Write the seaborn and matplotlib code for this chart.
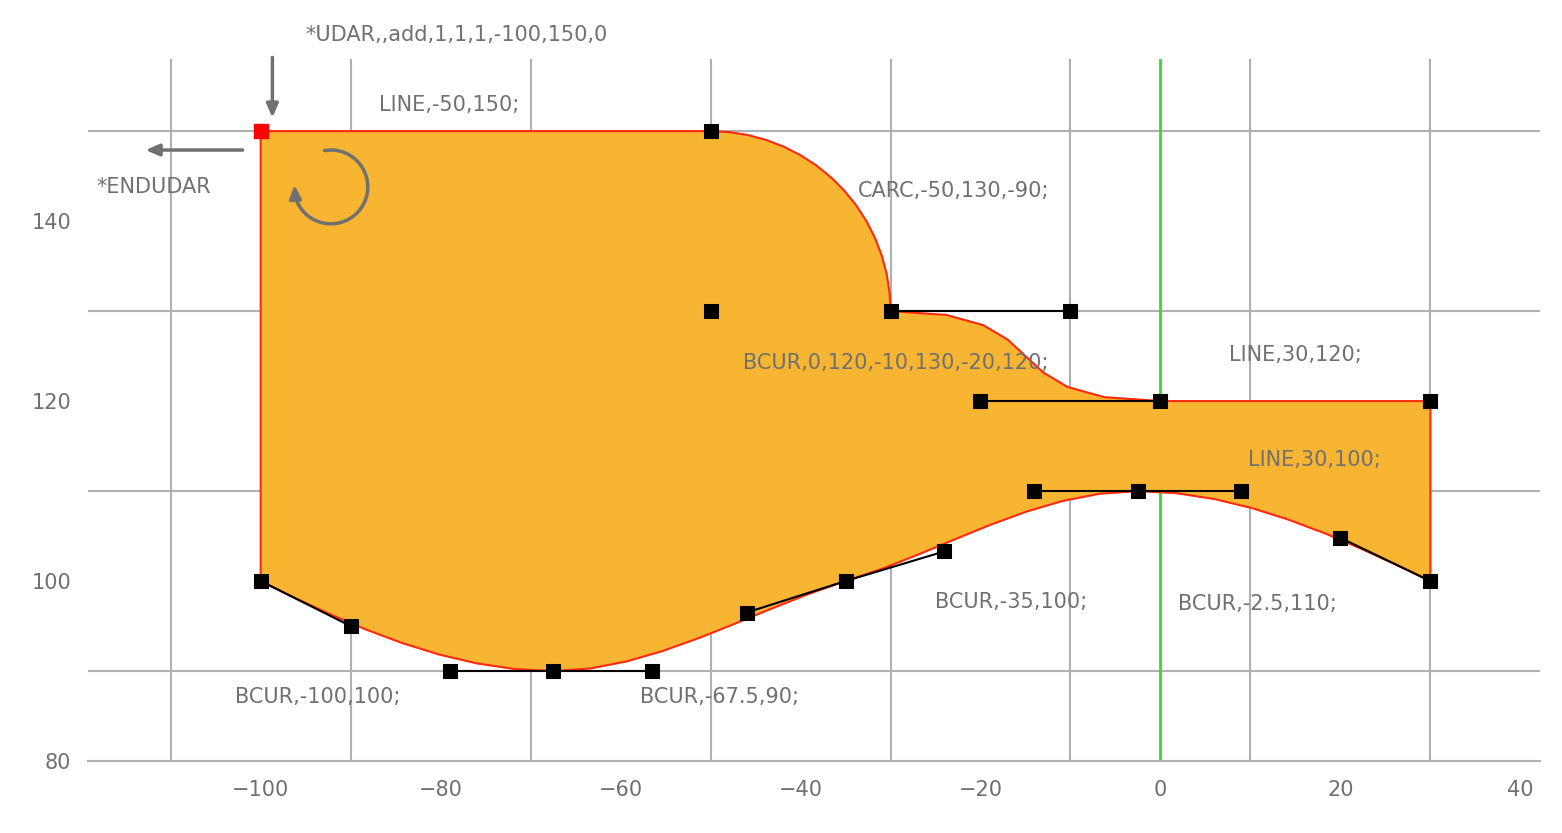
import numpy as np
import pandas as pd
import seaborn as sns
import matplotlib.pyplot as plt

# outline pieces
start = (-100, 150)
line1_end = (-50, 150)
arc_center = (-50, 130)
arc_radius = 20
bcur_top = [(-30, 130), (-10, 130), (-20, 120), (0, 120)]
line2_end = (30, 120)
line3_end = (30, 100)
bcur_low = [
    [(30, 100), (20, 104.8), (9, 110), (-2.5, 110)],
    [(-2.5, 110), (-14, 110), (-24, 103.3), (-35, 100)],
    [(-35, 100), (-46, 96.5), (-56.5, 90), (-67.5, 90)],
    [(-67.5, 90), (-79, 90), (-90, 95), (-100, 100)],
]

# control handles (black squares joined by black lines)
handles = [
    [(-30, 130), (-10, 130)],
    [(-20, 120), (0, 120)],
    [(30, 100), (20, 104.8)],
    [(9, 110), (-2.5, 110), (-14, 110)],
    [(-24, 103.3), (-35, 100), (-46, 96.5)],
    [(-56.5, 90), (-67.5, 90), (-79, 90)],
    [(-90, 95), (-100, 100)],
]
extra_pts = [(-50, 150), (-50, 130), (30, 120)]

labels = [
    ("LINE,-50,150;", -86.9, 152.9),
    ("*ENDUDAR", -118.3, 143.8),
    ("CARC,-50,130,-90;", -33.6, 143.4),
    ("BCUR,0,120,-10,130,-20,120;", -46.4, 124.2),
    ("LINE,30,120;", 7.6, 125.1),
    ("LINE,30,100;", 9.7, 113.4),
    ("BCUR,-35,100;", -25.1, 97.7),
    ("BCUR,-2.5,110;", 1.9, 97.4),
    ("BCUR,-100,100;", -102.9, 87.1),
    ("BCUR,-67.5,90;", -57.8, 87.1),
]


def bezier(p, n=8):
    p = np.array(p, dtype=float)
    t = np.linspace(0, 1, n + 1)[:, None]
    return ((1 - t) ** 3 * p[0] + 3 * (1 - t) ** 2 * t * p[1]
            + 3 * (1 - t) * t ** 2 * p[2] + t ** 3 * p[3])


pts = [np.array([start, line1_end])]
a = np.radians(np.linspace(90, 0, 16))
pts.append(np.column_stack([arc_center[0] + arc_radius * np.cos(a),
                            arc_center[1] + arc_radius * np.sin(a)]))
pts.append(bezier(bcur_top))
pts.append(np.array([line2_end, line3_end]))
for b in bcur_low:
    pts.append(bezier(b))
pts.append(np.array([start]))
outline = np.vstack(pts)

sns.set_style("white")
fig = plt.figure(figsize=(15.62, 8.33), dpi=100)
ax = fig.add_axes([0.0563, 0.0864, 0.9297, 0.8426])
gray = "#707070"

ax.fill(outline[:, 0], outline[:, 1], color="#F7B532", zorder=2)
ax.plot(outline[:, 0], outline[:, 1], color="#FF2A10", lw=1.5, zorder=3)
ax.axvline(0, color="#33DD22", lw=2, zorder=1.5)

for h in handles:
    h = np.array(h)
    ax.plot(h[:, 0], h[:, 1], color="black", lw=1.5, zorder=4)
allp = pd.DataFrame([p for h in handles for p in h] + extra_pts, columns=["x", "y"])
sns.scatterplot(data=allp, x="x", y="y", marker="s", color="black", s=90,
                edgecolor="black", ax=ax, zorder=5)
ax.scatter([start[0]], [start[1]], marker="s", color="red", s=90, zorder=6)

for txt, x, y in labels:
    ax.text(x, y, txt, color=gray, fontsize=15, va="center", ha="left", zorder=7)
ax.text(-95, 160.7, "*UDAR,,add,1,1,1,-100,150,0", color=gray, fontsize=15,
        va="center", ha="left", clip_on=False)

arrow = dict(arrowstyle="-|>,head_length=0.8,head_width=0.35", color=gray, lw=2.5)
ax.annotate("", xy=(-98.7, 151.2), xytext=(-98.7, 158.5), arrowprops=arrow,
            annotation_clip=False)
ax.annotate("", xy=(-113.1, 147.9), xytext=(-101.7, 147.9), arrowprops=arrow)
cx, cy, r = -92.2, 143.8, 4.1
th = np.radians(np.linspace(100, -165, 60))
ax.plot(cx + r * np.cos(th), cy + r * np.sin(th), color=gray, lw=2.5, zorder=7)
ex, ey = cx + r * np.cos(np.radians(-165)), cy + r * np.sin(np.radians(-165))
ax.annotate("", xy=(ex - 0.1, ey + 1.6), xytext=(ex, ey), arrowprops=arrow)

ax.set_xlim(-119.2, 42.2)
ax.set_ylim(80, 158)
ax.set_xticks(np.arange(-110, 41, 10), minor=True)
ax.set_yticks(np.arange(80, 151, 10), minor=True)
ax.grid(True, which="minor", color="#B0B0B0", lw=1.5, zorder=0)
ax.set_xticks(np.arange(-100, 41, 20))
ax.set_yticks([80, 100, 120, 140])
ax.tick_params(axis="both", which="both", length=0, labelsize=15, labelcolor=gray)
ax.tick_params(axis="x", pad=14)
ax.tick_params(axis="y", pad=12)
ax.set_axisbelow(True)
for s in ["top", "right", "left"]:
    ax.spines[s].set_visible(False)
ax.spines["bottom"].set_color("#B0B0B0")
ax.spines["bottom"].set_linewidth(1.5)
ax.set_xlabel("")
ax.set_ylabel("")

fig.savefig("out.png", dpi=100)
